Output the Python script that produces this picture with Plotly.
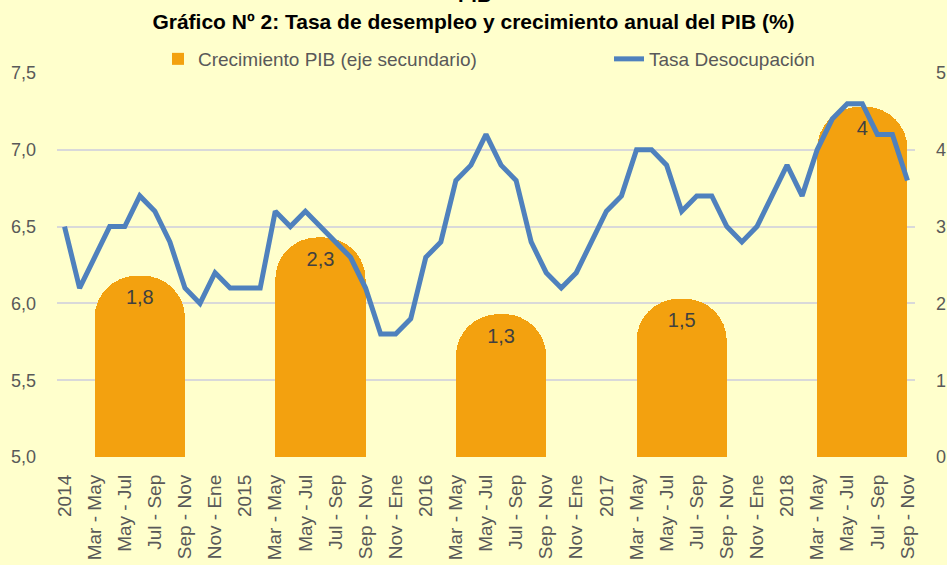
import plotly.graph_objects as go

# ---------------- data ----------------
years = [2014, 2015, 2016, 2017, 2018]
period_names = ["Ene - Mar", "Feb - Abr", "Mar - May", "Abr - Jun", "May - Jul", "Jun - Ago",
                "Jul - Sep", "Ago - Oct", "Sep - Nov", "Oct - Dic", "Nov - Ene", "Dic - Feb"]
periods_2018 = 9  # Ene-Mar .. Sep-Nov

# rolling quarters (unique category keys)
categories = []
for y in years:
    n = periods_2018 if y == 2018 else 12
    for p in period_names[:n]:
        categories.append(f"{p} {y}")

# displayed tick labels (every other period, year shown for Ene - Mar)
tick_labels = []
for c in categories[::2]:
    p, y = c.rsplit(" ", 1)
    tick_labels.append(y if p == "Ene - Mar" else p)

unemployment = [6.5, 6.1, 6.3, 6.5, 6.5, 6.7, 6.6, 6.4, 6.1, 6.0, 6.2, 6.1,
                6.1, 6.1, 6.6, 6.5, 6.6, 6.5, 6.4, 6.3, 6.1, 5.8, 5.8, 5.9,
                6.3, 6.4, 6.8, 6.9, 7.1, 6.9, 6.8, 6.4, 6.2, 6.1, 6.2, 6.4,
                6.6, 6.7, 7.0, 7.0, 6.9, 6.6, 6.7, 6.7, 6.5, 6.4, 6.5, 6.7,
                6.9, 6.7, 7.0, 7.2, 7.3, 7.3, 7.1, 7.1, 6.8]

gdp_categories = [f"Jun - Ago {y}" for y in years]
gdp_growth = [1.8, 2.3, 1.3, 1.5, 4.0]
gdp_labels = ["1,8", "2,3", "1,3", "1,5", "4"]

# ---------------- style ----------------
BG = "#FFFFCC"
ORANGE = "#F3A10F"
BLUE = "#4F81BD"
GRID = "#D9D9D9"
TXT = "#595959"
FONT = "Liberation Sans, Arial, sans-serif"
CAP = 0.56       # height of the decorative rounded cap (secondary axis units)
CAP_RADIUS = 42  # px

fig = go.Figure()

fig.add_trace(go.Bar(
    x=gdp_categories, y=gdp_growth, width=6,
    marker=dict(color=ORANGE, line=dict(width=0)),
    name="Crecimiento PIB (eje secundario)", yaxis="y", legend="legend",
    hoverinfo="skip",
))
# decorative rounded cap stacked on top of each bar (carries the data label)
fig.add_trace(go.Bar(
    x=gdp_categories, y=[CAP] * len(gdp_growth), width=6,
    marker=dict(color=ORANGE, line=dict(width=0), cornerradius=CAP_RADIUS),
    text=gdp_labels, textposition="inside", insidetextanchor="middle",
    textangle=0, constraintext="none",
    textfont=dict(family=FONT, size=20, color="#404040"),
    showlegend=False, yaxis="y", hoverinfo="skip",
))
fig.add_trace(go.Scatter(
    x=categories, y=unemployment, mode="lines",
    line=dict(color=BLUE, width=5),
    name="Tasa Desocupación", yaxis="y2", legend="legend2",
))

legend_common = dict(orientation="h", y=1 + 14 / 384, yanchor="middle", xanchor="left",
                     font=dict(family=FONT, size=19, color=TXT), bgcolor="rgba(0,0,0,0)")

fig.update_layout(
    width=947, height=565,
    paper_bgcolor=BG, plot_bgcolor=BG,
    margin=dict(l=57, r=32, t=73, b=108),
    barmode="stack",
    separators=", ",
    font=dict(family=FONT, size=17, color=TXT),
    title=dict(text="<b>Gráfico Nº 2: Tasa de desempleo y crecimiento anual del PIB (%)</b>",
               x=0.5, xanchor="center", y=1 - 22 / 565, yanchor="middle",
               font=dict(family=FONT, size=21, color="#000000")),
    legend=dict(x=(158 - 57) / 858, **legend_common),
    legend2=dict(x=(609 - 57) / 858, **legend_common),
    xaxis=dict(type="category", categoryorder="array", categoryarray=categories,
               range=[-0.5, len(categories) - 0.5], automargin=False,
               tickmode="array", tickvals=categories[::2], ticktext=tick_labels,
               tickangle=-90, tickfont=dict(size=19, color=TXT), ticklabelstandoff=13,
               showgrid=False, showline=False, ticks="", zeroline=False),
    yaxis=dict(side="right", range=[0, 5], dtick=1, tickformat="d", automargin=False,
               showgrid=True, gridcolor=GRID, gridwidth=2, zeroline=False,
               ticklabelstandoff=20, tickfont=dict(size=18, color=TXT)),
    yaxis2=dict(side="left", overlaying="y", range=[5, 7.5], dtick=0.5, tickformat=".1f",
                showgrid=False, zeroline=False, automargin=False,
                ticklabelstandoff=20, tickfont=dict(size=18, color=TXT)),
    annotations=[dict(text="<b>PIB</b>", xref="paper", yref="paper", x=0.487, y=1 + 65 / 384,
                      yanchor="bottom", showarrow=False,
                      font=dict(family=FONT, size=20, color="#000000"))],
)

fig.write_html("out.html", config={"displayModeBar": False},
               post_script="document.body.style.margin='0';document.body.style.padding='0';")
